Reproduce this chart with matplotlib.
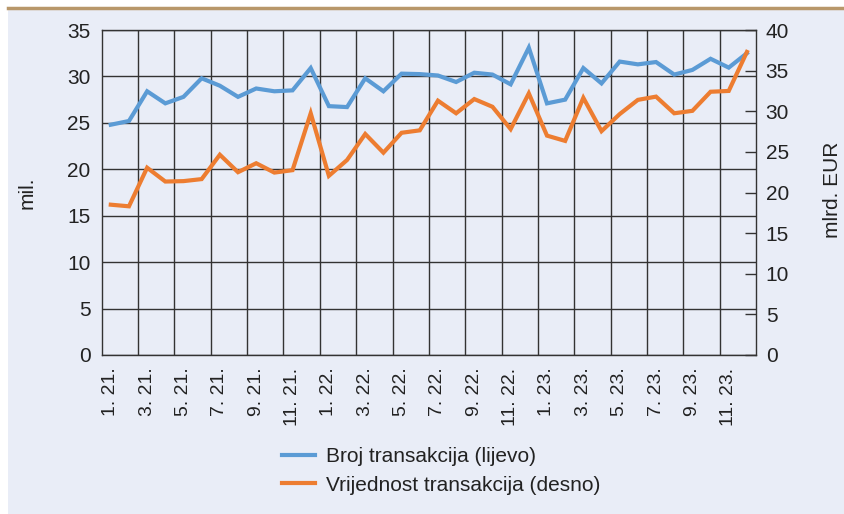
import numpy as np
import matplotlib.pyplot as plt
from matplotlib.lines import Line2D

plt.rcParams['font.family'] = ['Liberation Sans', 'DejaVu Sans']

# mjeseci 1.21 - 12.23
months = [f"{m}. {y}." for y in (21, 22, 23) for m in range(1, 13)]

broj = [24.8, 25.2, 28.4, 27.1, 27.8, 29.8, 29.0, 27.8, 28.7, 28.4, 28.5, 30.9,
        26.8, 26.7, 29.8, 28.4, 30.3, 30.25, 30.1, 29.4, 30.4, 30.2, 29.15, 33.1,
        27.1, 27.5, 30.9, 29.25, 31.6, 31.3, 31.55, 30.2, 30.7, 31.9, 30.95, 32.5]

vrijednost = [18.5, 18.3, 23.05, 21.35, 21.4, 21.65, 24.65, 22.5, 23.6, 22.45, 22.75, 29.75,
              22.05, 24.0, 27.2, 24.9, 27.35, 27.65, 31.3, 29.75, 31.5, 30.55, 27.8, 32.2,
              27.0, 26.35, 31.65, 27.55, 29.65, 31.4, 31.8, 29.75, 30.05, 32.4, 32.5, 37.3]

bg = '#e9edf7'
blue = '#5b9bd5'
orange = '#ed7d31'
grid_c = '#333333'
txt = '#222222'

fig = plt.figure(figsize=(8.45, 5.14), dpi=100)
fig.patch.set_facecolor('white')
fig.patches.append(plt.Rectangle((8 / 845, 0), 1, 1 - 9 / 514, transform=fig.transFigure,
                                 facecolor=bg, edgecolor='none', zorder=-10))
fig.add_artist(Line2D([8 / 845, 1], [1 - 7.5 / 514, 1 - 7.5 / 514], transform=fig.transFigure,
                      color='#b8976a', lw=2.5))

ax = fig.add_axes([101.7 / 845, 1 - 355 / 514, (756 - 101.7) / 845, (355 - 30) / 514])
ax.set_facecolor(bg)
x = np.arange(len(months))

ax.plot(x, broj, color=blue, lw=3, solid_joinstyle='miter', zorder=3)
ax.set_xlim(-0.5, len(months) - 0.5)
ax.set_ylim(0, 35)
ax.set_yticks(range(0, 36, 5))
ax.set_xticks(x[::2])
ax.set_xticklabels(months[::2], rotation=90)
ax.set_xticks(np.arange(1.5, len(months) - 0.5, 2), minor=True)
ax.tick_params(axis='x', which='both', length=0, pad=9, labelsize=14, colors=txt)
ax.tick_params(axis='y', length=0, pad=8, labelsize=15, colors=txt)
ax.grid(axis='x', which='minor', color=grid_c, lw=1)
ax.grid(axis='y', which='major', color=grid_c, lw=1)
ax.set_axisbelow(True)
for s in ax.spines.values():
    s.set_color(grid_c)
    s.set_linewidth(1)
ax.set_ylabel('mil.', fontsize=15, labelpad=22, color=txt)

ax2 = ax.twinx()
ax2.plot(x, vrijednost, color=orange, lw=3, solid_joinstyle='miter', zorder=3)
ax2.set_ylim(0, 40)
ax2.set_yticks(range(0, 41, 5))
ax2.tick_params(axis='y', direction='in', length=8, width=1, color=grid_c, pad=7,
                labelsize=15, labelcolor=txt)
for s in ax2.spines.values():
    s.set_visible(False)

fig.text(833 / 845, 1 - 190 / 514, 'mlrd. EUR', rotation=90, ha='center', va='center',
         fontsize=15, color=txt)

handles = [Line2D([], [], color=blue, lw=3), Line2D([], [], color=orange, lw=3)]
fig.legend(handles, ['Broj transakcija (lijevo)', 'Vrijednost transakcija (desno)'],
           loc='center', bbox_to_anchor=(441 / 845, 1 - 471 / 514), frameon=False,
           fontsize=15, handlelength=1.6, handletextpad=0.5, labelspacing=0.45,
           labelcolor=txt)

fig.savefig('out.png', dpi=100)
